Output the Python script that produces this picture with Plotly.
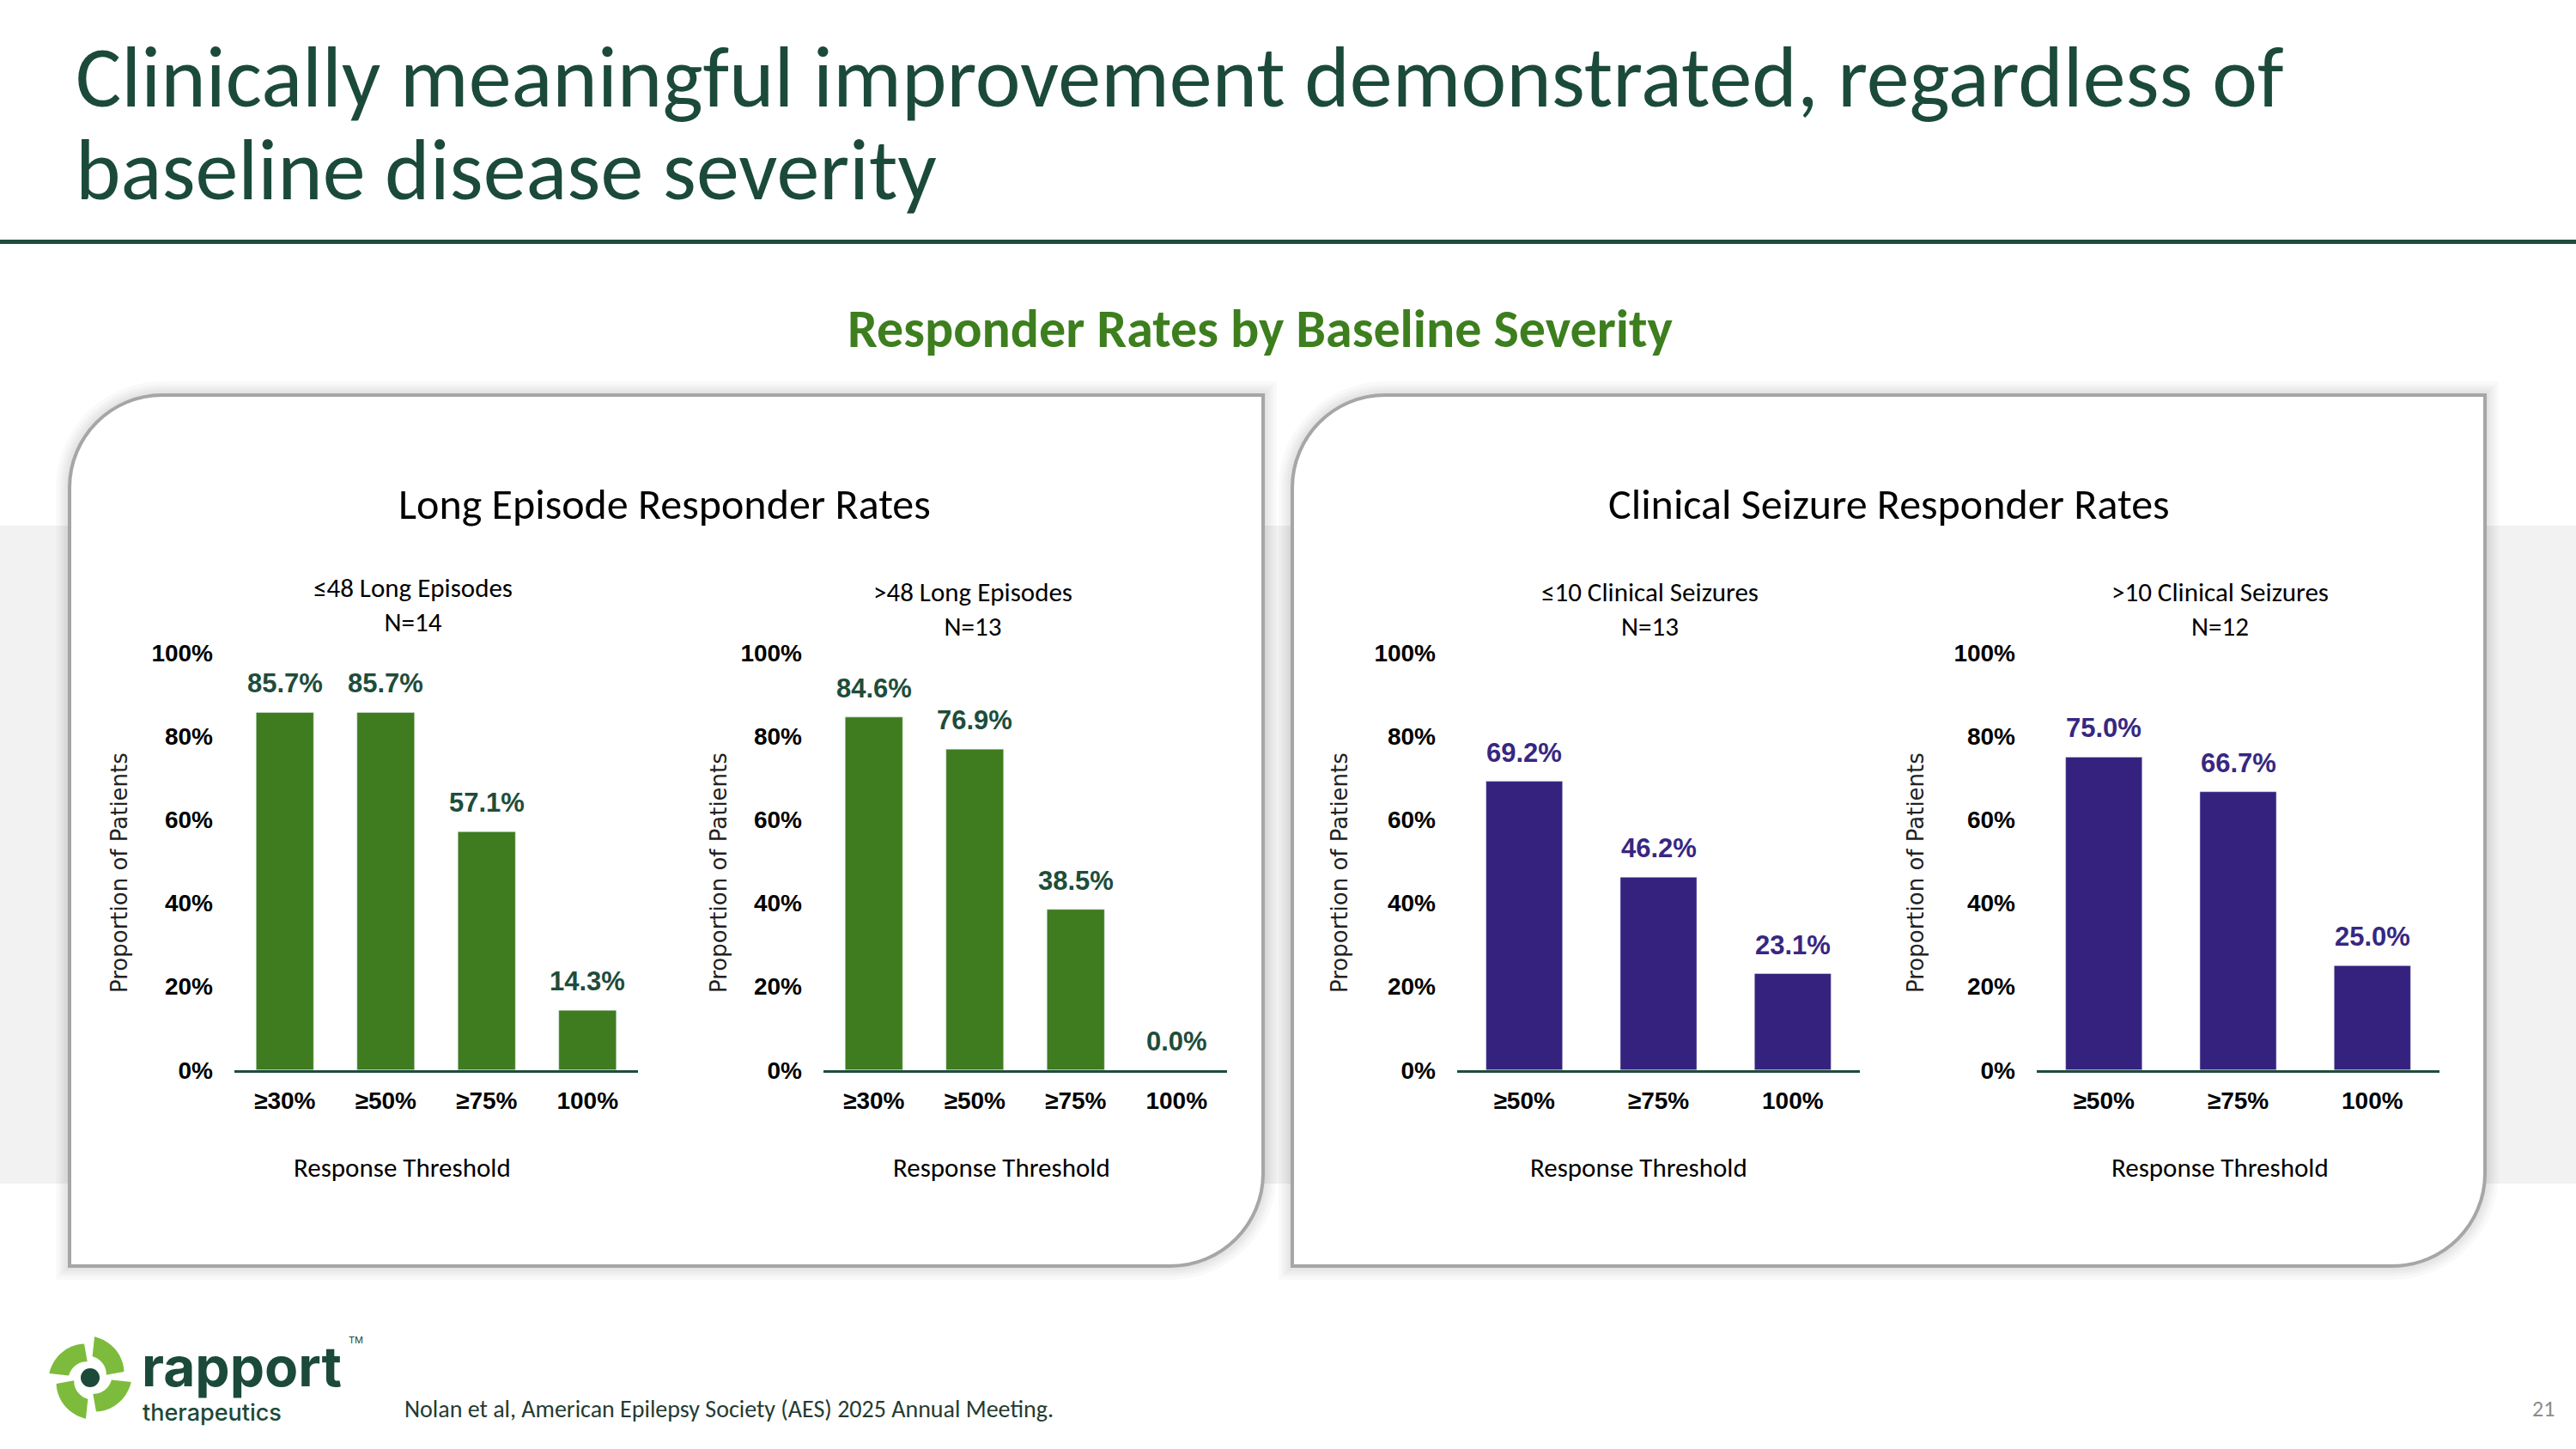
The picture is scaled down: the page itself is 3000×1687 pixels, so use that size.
import numpy as np
import plotly.graph_objects as go

W, H = 3000, 1687

# ---- data ----
long_cats = ["≥30%", "≥50%", "≥75%", "100%"]
long_low = [0.857, 0.857, 0.571, 0.143]     # <=48 long episodes, N=14
long_high = [0.846, 0.769, 0.385, 0.0]      # >48 long episodes, N=13

seiz_cats = ["≥50%", "≥75%", "100%"]
seiz_low = [0.692, 0.462, 0.231]            # <=10 clinical seizures, N=13
seiz_high = [0.750, 0.667, 0.250]           # >10 clinical seizures, N=12

sub_titles = ["≤48 Long Episodes", ">48 Long Episodes",
              "≤10 Clinical Seizures", ">10 Clinical Seizures"]
sub_n = [14, 13, 13, 12]
y_ticks = [0, 0.2, 0.4, 0.6, 0.8, 1.0]

GREEN = "#3E7C1F"
GREEN_LBL = "#1E4D3B"
PURPLE = "#35227F"
PURPLE_LBL = "#372782"
DARK = "#1B4A3A"
CAL = "Carlito, Lato, sans-serif"
ARIAL = "Liberation Sans, Arial, sans-serif"


def px(x):
    return x / W


def py(y):
    return 1 - y / H


def note(x, y, text, font, xanchor="center", **kw):
    # paper-positioned text, given in slide pixels
    fig.add_annotation(x=px(x), y=py(y), xref="paper", yref="paper", text=text,
                       showarrow=False, xanchor=xanchor, yanchor="middle", font=font, **kw)


def panel_path(x0, y0, x1, y1, r):
    # rounded top-left and bottom-right corners only
    k = 0.5523 * r
    p = lambda x, y: f"{px(x):.5f},{py(y):.5f}"
    return (f"M {p(x0, y0 + r)} C {p(x0, y0 + r - k)} {p(x0 + r - k, y0)} {p(x0 + r, y0)} "
            f"L {p(x1, y0)} L {p(x1, y1 - r)} "
            f"C {p(x1, y1 - r + k)} {p(x1 - r + k, y1)} {p(x1 - r, y1)} "
            f"L {p(x0, y1)} Z")


charts = [
    dict(cats=long_cats, vals=long_low, color=GREEN, lbl=GREEN_LBL, xd=(273, 743), sx=481, sy=704, tx=139, rx=468),
    dict(cats=long_cats, vals=long_high, color=GREEN, lbl=GREEN_LBL, xd=(959, 1429), sx=1133, sy=709, tx=837, rx=1166),
    dict(cats=seiz_cats, vals=seiz_low, color=PURPLE, lbl=PURPLE_LBL, xd=(1697, 2166), sx=1921, sy=709, tx=1560, rx=1908),
    dict(cats=seiz_cats, vals=seiz_high, color=PURPLE, lbl=PURPLE_LBL, xd=(2372, 2841), sx=2585, sy=709, tx=2231, rx=2585),
]

fig = go.Figure()
ydom = [py(1245.7), py(760)]
tickfont = dict(family=ARIAL, size=28, color="black", weight="bold")

for i, c in enumerate(charts):
    n = "" if i == 0 else str(i + 1)
    fig.add_trace(go.Bar(x=c["cats"], y=c["vals"], marker_color=c["color"], width=0.57,
                         xaxis="x" + n, yaxis="y" + n, showlegend=False))
    fig.layout["xaxis" + n] = dict(domain=[px(c["xd"][0]), px(c["xd"][1])], anchor="y" + n,
                                   showline=True, linecolor=GREEN_LBL, linewidth=3, ticks="",
                                   showgrid=False, zeroline=False, tickfont=tickfont,
                                   ticklabelstandoff=9, fixedrange=True, automargin=False)
    fig.layout["yaxis" + n] = dict(domain=ydom, anchor="x" + n, range=[0, 1], tickvals=y_ticks,
                                   tickformat=".0%", showgrid=False, zeroline=False, showline=False,
                                   ticks="", tickfont=tickfont, ticklabelstandoff=24, fixedrange=True,
                                   automargin=False)
    for cat, v in zip(c["cats"], c["vals"]):
        fig.add_annotation(x=cat, y=v, xref="x" + n, yref="y" + n, text=f"{v * 100:.1f}%",
                           showarrow=False, xanchor="center", yanchor="bottom", yshift=14,
                           font=dict(family=ARIAL, size=31, color=c["lbl"], weight="bold"))
    note(c["sx"], c["sy"], f"{sub_titles[i]}<br>N={sub_n[i]}",
         dict(family=CAL, size=31, color="black"))
    note(c["tx"], 1016, "Proportion of Patients",
         dict(family="DejaVu Sans", size=26, color="#222222"), textangle=-90)
    note(c["rx"], 1359, "Response Threshold", dict(family=CAL, size=31, color="black"))

# ---- background, panels ----
shapes = [dict(type="rect", xref="paper", yref="paper", x0=0, x1=1, y0=py(1378), y1=py(612),
               fillcolor="#F2F2F2", line_width=0, layer="below")]
for (x0, x1) in [(81, 1471), (1505, 2894)]:
    for d in [16, 12, 9, 6, 3]:
        shapes.append(dict(type="path", xref="paper", yref="paper",
                           path=panel_path(x0 - d, 460 - d, x1 + d, 1474 + d, 108 + d),
                           fillcolor="rgba(0,0,0,0.022)", line_width=0, layer="below"))
    shapes.append(dict(type="path", xref="paper", yref="paper",
                       path=panel_path(x0, 460, x1, 1474, 108),
                       fillcolor="white", line=dict(color="#A6A6A6", width=4), layer="below"))

# title rule
shapes.append(dict(type="line", xref="paper", yref="paper", x0=0, x1=1, y0=py(281.5), y1=py(281.5),
                   line=dict(color=GREEN_LBL, width=5)))

# ---- logo icon: four swirl lobes around a dot ----
cx, cy = 105, 1604
for k in range(4):
    a0 = np.deg2rad(100 + 90 * k)
    t = np.linspace(0, 1, 30)
    ang = a0 + t * np.deg2rad(74)
    r_out = 40 + 8 * t
    r_in = 19 + 6 * t
    xs = np.concatenate([cx + r_out * np.cos(ang), (cx + r_in * np.cos(ang))[::-1]])
    ys = np.concatenate([cy - r_out * np.sin(ang), (cy - r_in * np.sin(ang))[::-1]])
    path = "M " + " L ".join(f"{px(a):.5f},{py(b):.5f}" for a, b in zip(xs, ys)) + " Z"
    shapes.append(dict(type="path", xref="paper", yref="paper", path=path,
                       fillcolor="#7DBB3C", line_width=0))
shapes.append(dict(type="circle", xref="paper", yref="paper", x0=px(cx - 11), x1=px(cx + 11),
                   y0=py(cy + 11), y1=py(cy - 11), fillcolor=DARK, line_width=0))

fig.update_layout(shapes=shapes)

# ---- slide texts ----
note(86, 90, "Clinically meaningful improvement demonstrated, regardless of",
     dict(family=CAL, size=100, color=DARK), xanchor="left")
note(86, 198, "baseline disease severity", dict(family=CAL, size=100, color=DARK), xanchor="left")
note(1468, 383, "<b>Responder Rates by Baseline Severity</b>", dict(family=CAL, size=62, color="#3D7E1E"))
note(774, 586, "Long Episode Responder Rates", dict(family=CAL, size=50, color="black"))
note(2200, 586, "Clinical Seizure Responder Rates", dict(family=CAL, size=50, color="black"))
note(469, 1640, "Nolan et al, American Epilepsy Society (AES) 2025 Annual Meeting.",
     dict(family=CAL, size=28, color="#243B33"), xanchor="left")
note(2977, 1640, "21", dict(family=CAL, size=26, color="#8C8C8C"), xanchor="right")
note(163, 1590, "<b>rapport</b>", dict(family="Inter", size=64, color=DARK), xanchor="left")
note(404, 1560, "TM", dict(family="Inter", size=11, color=DARK), xanchor="left")
note(164, 1644, "therapeutics", dict(family="Inter", size=27, color=DARK, weight=500), xanchor="left")

fig.update_layout(width=W, height=H, margin=dict(l=0, r=0, t=0, b=0, autoexpand=False),
                  paper_bgcolor="white", plot_bgcolor="rgba(0,0,0,0)",
                  showlegend=False, bargap=0.43)

# drop the default page margin so the slide sits at the window's corner
fig.write_html("out.html", config={"displayModeBar": False},
               post_script="document.body.style.margin='0';")
